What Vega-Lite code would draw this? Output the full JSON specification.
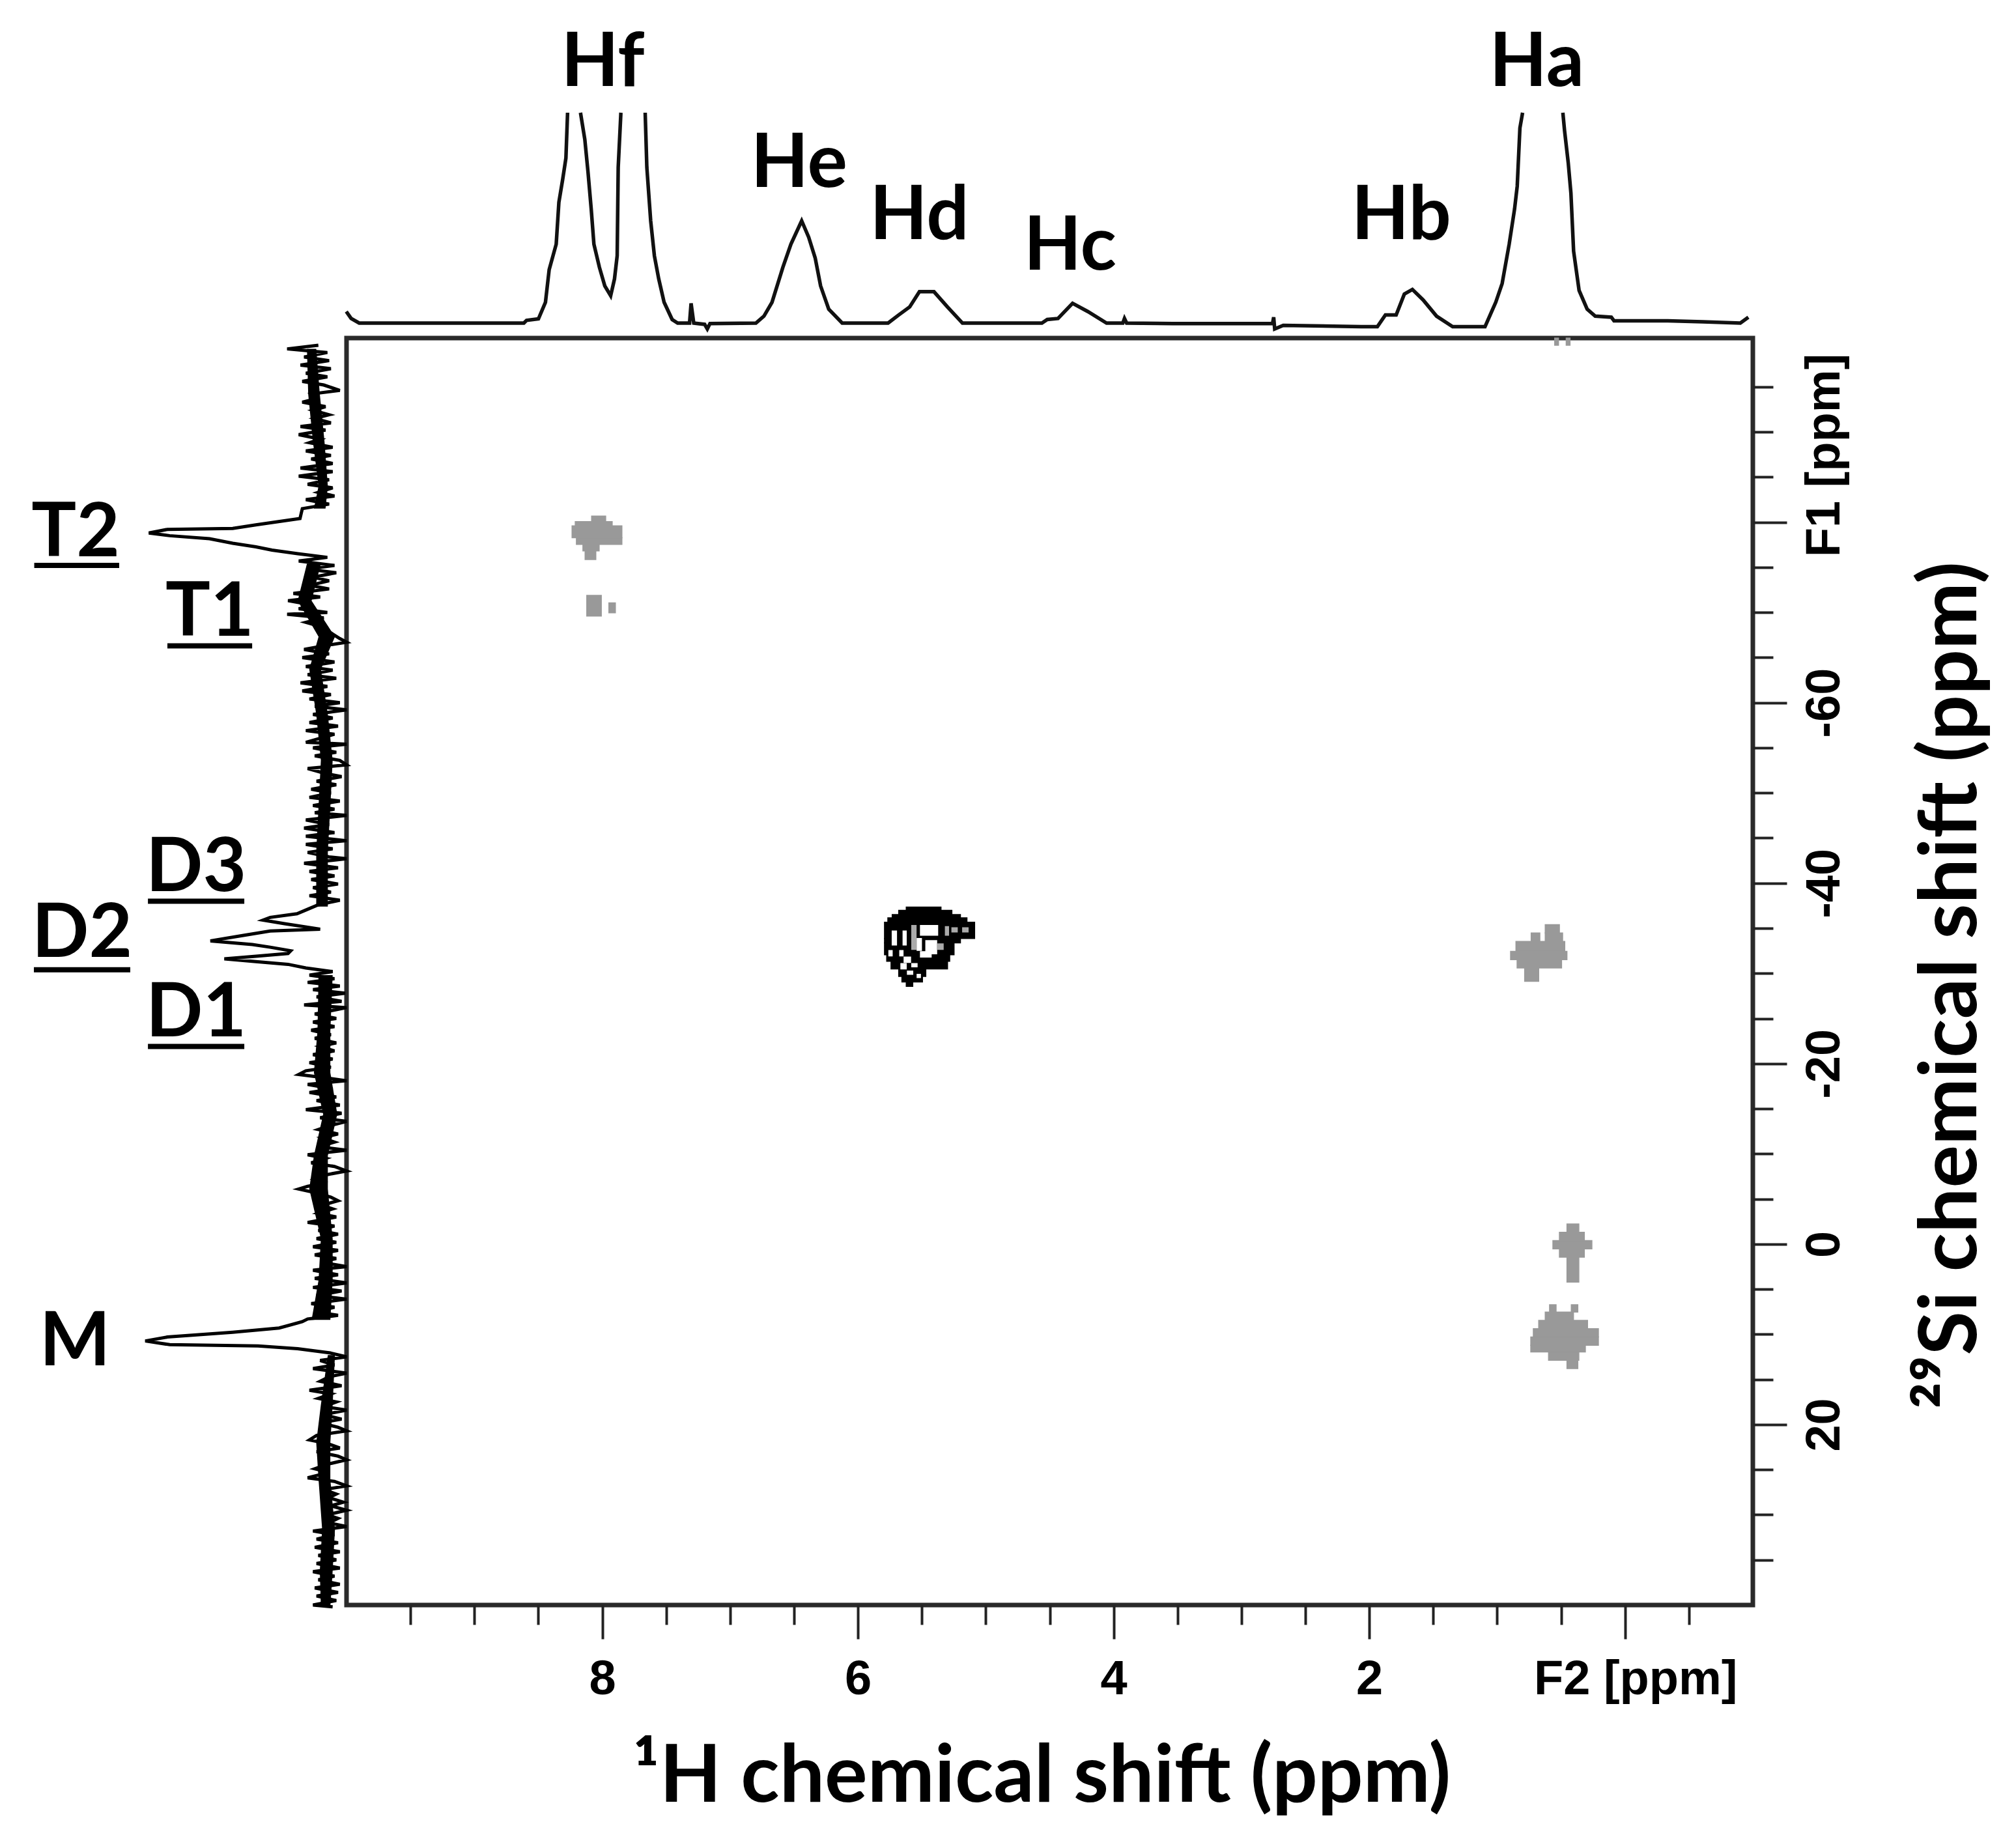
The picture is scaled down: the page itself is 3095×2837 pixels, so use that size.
{
  "$schema": "https://vega.github.io/schema/vega-lite/v6.json",
  "description": "1H-29Si 2D NMR spectrum with projections",
  "width": 2159,
  "height": 1945,
  "autosize": "none",
  "padding": {"left": 532, "top": 519, "right": 404, "bottom": 373},
  "background": "white",
  "config": {"view": {"stroke": "#2a2a2a", "strokeWidth": 7}},
  "datasets": {
    "cells": [
      {"f2a": 8.083, "f2b": 7.973, "f1a": -80.67, "f1b": -80.07, "level": "cross"},
      {"f2a": 8.211, "f2b": 7.922, "f1a": -80.07, "f1b": -79.59, "level": "cross"},
      {"f2a": 8.236, "f2b": 7.846, "f1a": -79.59, "f1b": -78.27, "level": "cross"},
      {"f2a": 8.202, "f2b": 7.846, "f1a": -78.27, "f1b": -77.54, "level": "cross"},
      {"f2a": 8.151, "f2b": 8.024, "f1a": -77.54, "f1b": -76.82, "level": "cross"},
      {"f2a": 8.134, "f2b": 8.05, "f1a": -76.82, "f1b": -75.86, "level": "cross"},
      {"f2a": 8.121, "f2b": 8.007, "f1a": -71.89, "f1b": -69.6, "level": "cross"},
      {"f2a": 7.948, "f2b": 7.897, "f1a": -71.05, "f1b": -69.96, "level": "cross"},
      {"f2a": 0.55, "f2b": 0.52, "f1a": -100.4, "f1b": -99.6, "level": "cross"},
      {"f2a": 0.46, "f2b": 0.43, "f1a": -100.4, "f1b": -99.6, "level": "cross"},
      {"f2a": 0.624, "f2b": 0.513, "f1a": -35.39, "f1b": -34.47, "level": "cross"},
      {"f2a": 0.734, "f2b": 0.666, "f1a": -34.47, "f1b": -33.54, "level": "cross"},
      {"f2a": 0.624, "f2b": 0.488, "f1a": -34.47, "f1b": -33.54, "level": "cross"},
      {"f2a": 0.853, "f2b": 0.471, "f1a": -33.54, "f1b": -32.44, "level": "cross"},
      {"f2a": 0.895, "f2b": 0.454, "f1a": -32.44, "f1b": -31.52, "level": "cross"},
      {"f2a": 0.844, "f2b": 0.496, "f1a": -31.52, "f1b": -30.6, "level": "cross"},
      {"f2a": 0.785, "f2b": 0.675, "f1a": -30.6, "f1b": -29.12, "level": "cross"},
      {"f2a": 0.454, "f2b": 0.361, "f1a": -2.23, "f1b": -1.31, "level": "cross"},
      {"f2a": 0.513, "f2b": 0.318, "f1a": -1.31, "f1b": -0.39, "level": "cross"},
      {"f2a": 0.564, "f2b": 0.259, "f1a": -0.39, "f1b": 0.53, "level": "cross"},
      {"f2a": 0.513, "f2b": 0.318, "f1a": 0.53, "f1b": 1.45, "level": "cross"},
      {"f2a": 0.454, "f2b": 0.361, "f1a": 1.45, "f1b": 4.22, "level": "cross"},
      {"f2a": 0.59, "f2b": 0.539, "f1a": 6.72, "f1b": 7.53, "level": "cross"},
      {"f2a": 0.42, "f2b": 0.369, "f1a": 6.72, "f1b": 7.53, "level": "cross"},
      {"f2a": 0.624, "f2b": 0.403, "f1a": 7.53, "f1b": 8.45, "level": "cross"},
      {"f2a": 0.675, "f2b": 0.293, "f1a": 8.45, "f1b": 9.37, "level": "cross"},
      {"f2a": 0.717, "f2b": 0.208, "f1a": 9.37, "f1b": 10.29, "level": "cross"},
      {"f2a": 0.737, "f2b": 0.208, "f1a": 10.29, "f1b": 11.21, "level": "cross"},
      {"f2a": 0.737, "f2b": 0.31, "f1a": 11.21, "f1b": 11.95, "level": "cross"},
      {"f2a": 0.598, "f2b": 0.361, "f1a": 11.95, "f1b": 12.88, "level": "cross"},
      {"f2a": 0.454, "f2b": 0.369, "f1a": 12.88, "f1b": 13.8, "level": "cross"},
      {"f2a": 5.622, "f2b": 5.35, "f1a": -37.35, "f1b": -36.99, "level": "contour"},
      {"f2a": 5.681, "f2b": 5.265, "f1a": -36.99, "f1b": -36.51, "level": "contour"},
      {"f2a": 5.732, "f2b": 5.198, "f1a": -36.51, "f1b": -36.15, "level": "contour"},
      {"f2a": 5.766, "f2b": 5.147, "f1a": -36.15, "f1b": -35.66, "level": "contour"},
      {"f2a": 5.792, "f2b": 5.087, "f1a": -35.66, "f1b": -33.86, "level": "contour"},
      {"f2a": 5.792, "f2b": 5.198, "f1a": -33.86, "f1b": -33.38, "level": "contour"},
      {"f2a": 5.792, "f2b": 5.248, "f1a": -33.38, "f1b": -32.05, "level": "contour"},
      {"f2a": 5.775, "f2b": 5.282, "f1a": -32.05, "f1b": -31.33, "level": "contour"},
      {"f2a": 5.741, "f2b": 5.299, "f1a": -31.33, "f1b": -30.49, "level": "contour"},
      {"f2a": 5.681, "f2b": 5.469, "f1a": -30.49, "f1b": -29.65, "level": "contour"},
      {"f2a": 5.656, "f2b": 5.495, "f1a": -29.65, "f1b": -29.05, "level": "contour"},
      {"f2a": 5.622, "f2b": 5.571, "f1a": -29.05, "f1b": -28.56, "level": "contour"},
      {"f2a": 5.732, "f2b": 5.698, "f1a": -34.7, "f1b": -33.14, "level": "gap"},
      {"f2a": 5.647, "f2b": 5.622, "f1a": -34.7, "f1b": -33.14, "level": "gap"},
      {"f2a": 5.579, "f2b": 5.545, "f1a": -35.3, "f1b": -32.66, "level": "mid"},
      {"f2a": 5.511, "f2b": 5.376, "f1a": -35.3, "f1b": -34.22, "level": "gap"},
      {"f2a": 5.537, "f2b": 5.503, "f1a": -33.86, "f1b": -32.54, "level": "gap"},
      {"f2a": 5.469, "f2b": 5.384, "f1a": -33.62, "f1b": -32.17, "level": "gap"},
      {"f2a": 5.511, "f2b": 5.427, "f1a": -32.41, "f1b": -31.81, "level": "gap"},
      {"f2a": 5.376, "f2b": 5.333, "f1a": -33.26, "f1b": -32.66, "level": "mid"},
      {"f2a": 5.316, "f2b": 5.291, "f1a": -35.18, "f1b": -34.22, "level": "mid"},
      {"f2a": 5.265, "f2b": 5.223, "f1a": -35.06, "f1b": -34.58, "level": "mid"},
      {"f2a": 5.181, "f2b": 5.138, "f1a": -35.06, "f1b": -34.58, "level": "mid"},
      {"f2a": 5.758, "f2b": 5.732, "f1a": -32.53, "f1b": -31.93, "level": "gap"},
      {"f2a": 5.673, "f2b": 5.647, "f1a": -32.53, "f1b": -31.93, "level": "gap"},
      {"f2a": 5.639, "f2b": 5.588, "f1a": -31.81, "f1b": -31.21, "level": "gap"},
      {"f2a": 5.579, "f2b": 5.537, "f1a": -31.09, "f1b": -30.73, "level": "gap"},
      {"f2a": 5.664, "f2b": 5.622, "f1a": -31.09, "f1b": -30.49, "level": "gap"},
      {"f2a": 5.613, "f2b": 5.571, "f1a": -30.25, "f1b": -29.89, "level": "gap"},
      {"f2a": 5.537, "f2b": 5.511, "f1a": -29.89, "f1b": -29.53, "level": "gap"}
    ],
    "proton": [
      {"seg": 1, "ppm": 10.002, "i": 0.055}, {"seg": 1, "ppm": 9.964, "i": 0.022}, {"seg": 1, "ppm": 9.901, "i": 0},
      {"seg": 1, "ppm": 8.613, "i": 0}, {"seg": 1, "ppm": 8.592, "i": 0.013}, {"seg": 1, "ppm": 8.499, "i": 0.02},
      {"seg": 1, "ppm": 8.444, "i": 0.099}, {"seg": 1, "ppm": 8.415, "i": 0.254}, {"seg": 1, "ppm": 8.36, "i": 0.375},
      {"seg": 1, "ppm": 8.339, "i": 0.574}, {"seg": 1, "ppm": 8.309, "i": 0.684}, {"seg": 1, "ppm": 8.284, "i": 0.784},
      {"seg": 1, "ppm": 8.271, "i": 1},
      {"seg": 2, "ppm": 8.17, "i": 1}, {"seg": 2, "ppm": 8.136, "i": 0.872}, {"seg": 2, "ppm": 8.111, "i": 0.717},
      {"seg": 2, "ppm": 8.086, "i": 0.541}, {"seg": 2, "ppm": 8.065, "i": 0.375}, {"seg": 2, "ppm": 8.022, "i": 0.265},
      {"seg": 2, "ppm": 7.98, "i": 0.177}, {"seg": 2, "ppm": 7.934, "i": 0.13}, {"seg": 2, "ppm": 7.904, "i": 0.21},
      {"seg": 2, "ppm": 7.883, "i": 0.32}, {"seg": 2, "ppm": 7.875, "i": 0.74}, {"seg": 2, "ppm": 7.854, "i": 1},
      {"seg": 3, "ppm": 7.664, "i": 1}, {"seg": 3, "ppm": 7.651, "i": 0.74}, {"seg": 3, "ppm": 7.621, "i": 0.486},
      {"seg": 3, "ppm": 7.592, "i": 0.32}, {"seg": 3, "ppm": 7.558, "i": 0.21}, {"seg": 3, "ppm": 7.516, "i": 0.099},
      {"seg": 3, "ppm": 7.453, "i": 0.017}, {"seg": 3, "ppm": 7.41, "i": 0}, {"seg": 3, "ppm": 7.317, "i": 0},
      {"seg": 3, "ppm": 7.305, "i": 0.094}, {"seg": 3, "ppm": 7.284, "i": 0}, {"seg": 3, "ppm": 7.199, "i": -0.006},
      {"seg": 3, "ppm": 7.178, "i": -0.028}, {"seg": 3, "ppm": 7.157, "i": -0.002}, {"seg": 3, "ppm": 6.798, "i": 0},
      {"seg": 3, "ppm": 6.735, "i": 0.033}, {"seg": 3, "ppm": 6.672, "i": 0.099}, {"seg": 3, "ppm": 6.587, "i": 0.265},
      {"seg": 3, "ppm": 6.524, "i": 0.375}, {"seg": 3, "ppm": 6.44, "i": 0.486}, {"seg": 3, "ppm": 6.385, "i": 0.408},
      {"seg": 3, "ppm": 6.334, "i": 0.309}, {"seg": 3, "ppm": 6.292, "i": 0.177}, {"seg": 3, "ppm": 6.228, "i": 0.066},
      {"seg": 3, "ppm": 6.123, "i": 0}, {"seg": 3, "ppm": 5.764, "i": 0}, {"seg": 3, "ppm": 5.68, "i": 0.039},
      {"seg": 3, "ppm": 5.595, "i": 0.077}, {"seg": 3, "ppm": 5.519, "i": 0.149}, {"seg": 3, "ppm": 5.405, "i": 0.149},
      {"seg": 3, "ppm": 5.3, "i": 0.077}, {"seg": 3, "ppm": 5.182, "i": 0}, {"seg": 3, "ppm": 4.561, "i": 0},
      {"seg": 3, "ppm": 4.519, "i": 0.017}, {"seg": 3, "ppm": 4.435, "i": 0.022}, {"seg": 3, "ppm": 4.321, "i": 0.094},
      {"seg": 3, "ppm": 4.202, "i": 0.055}, {"seg": 3, "ppm": 4.055, "i": 0}, {"seg": 3, "ppm": 3.928, "i": 0},
      {"seg": 3, "ppm": 3.915, "i": 0.022}, {"seg": 3, "ppm": 3.898, "i": 0}, {"seg": 3, "ppm": 3.535, "i": -0.002},
      {"seg": 3, "ppm": 2.757, "i": -0.002}, {"seg": 3, "ppm": 2.748, "i": 0.028}, {"seg": 3, "ppm": 2.74, "i": -0.028},
      {"seg": 3, "ppm": 2.673, "i": -0.011}, {"seg": 3, "ppm": 2.063, "i": -0.017}, {"seg": 3, "ppm": 1.937, "i": -0.017},
      {"seg": 3, "ppm": 1.874, "i": 0.039}, {"seg": 3, "ppm": 1.79, "i": 0.039}, {"seg": 3, "ppm": 1.726, "i": 0.138},
      {"seg": 3, "ppm": 1.663, "i": 0.16}, {"seg": 3, "ppm": 1.579, "i": 0.11}, {"seg": 3, "ppm": 1.474, "i": 0.033},
      {"seg": 3, "ppm": 1.348, "i": -0.017}, {"seg": 3, "ppm": 1.095, "i": -0.017}, {"seg": 3, "ppm": 1.011, "i": 0.099},
      {"seg": 3, "ppm": 0.961, "i": 0.188}, {"seg": 3, "ppm": 0.906, "i": 0.375}, {"seg": 3, "ppm": 0.864, "i": 0.541},
      {"seg": 3, "ppm": 0.843, "i": 0.651}, {"seg": 3, "ppm": 0.822, "i": 0.927}, {"seg": 3, "ppm": 0.801, "i": 1},
      {"seg": 4, "ppm": 0.486, "i": 1}, {"seg": 4, "ppm": 0.473, "i": 0.916}, {"seg": 4, "ppm": 0.444, "i": 0.762},
      {"seg": 4, "ppm": 0.423, "i": 0.618}, {"seg": 4, "ppm": 0.402, "i": 0.342}, {"seg": 4, "ppm": 0.359, "i": 0.155},
      {"seg": 4, "ppm": 0.296, "i": 0.066}, {"seg": 4, "ppm": 0.233, "i": 0.033}, {"seg": 4, "ppm": 0.107, "i": 0.028},
      {"seg": 4, "ppm": 0.086, "i": 0.011}, {"seg": 4, "ppm": -0.334, "i": 0.011}, {"seg": 4, "ppm": -0.608, "i": 0.006},
      {"seg": 4, "ppm": -0.902, "i": 0}, {"seg": 4, "ppm": -0.965, "i": 0.028}
    ],
    "silicon": [
      {"si":-99.6,"i":0.03},{"si":-99.2,"i":0.205},{"si":-98.8,"i":-0.02},{"si":-98.3,"i":0.11},{"si":-97.9,"i":-0.03},{"si":-97.4,"i":0.13},{"si":-97,"i":-0.04},{"si":-96.5,"i":0.1},{"si":-96.1,"i":-0.02},{"si":-95.6,"i":0.12},{"si":-95.2,"i":0},{"si":-94.6,"i":-0.09},{"si":-94.2,"i":0.07},{"si":-93.7,"i":0.04},{"si":-93.3,"i":0.12},{"si":-92.8,"i":-0.01},{"si":-92.4,"i":0.06},{"si":-91.9,"i":-0.03},{"si":-91.5,"i":0.05},{"si":-91,"i":-0.04},{"si":-90.6,"i":0.13},{"si":-90.2,"i":-0.01},{"si":-89.7,"i":0.14},{"si":-89.2,"i":0.02},{"si":-88.8,"i":0.08},{"si":-88.3,"i":-0.05},{"si":-87.9,"i":0.1},{"si":-87.4,"i":-0.04},{"si":-87,"i":0.07},{"si":-86.5,"i":-0.05},{"si":-86,"i":0.13},{"si":-85.6,"i":-0.05},{"si":-85.1,"i":0.14},{"si":-84.7,"i":-0.03},{"si":-84.2,"i":0.09},{"si":-83.8,"i":-0.05},{"si":-83.3,"i":0.03},{"si":-82.9,"i":-0.06},{"si":-82.5,"i":0.1},{"si":-82,"i":-0.03},{"si":-81.5,"i":0.12},
      {"si":-80.4,"i":0.133},{"si":-79.7,"i":0.38},{"si":-79.3,"i":0.51},{"si":-79.2,"i":0.876},{"si":-78.8,"i":0.98},{"si":-78.5,"i":0.863},{"si":-78.17,"i":0.64},{"si":-77.66,"i":0.51},{"si":-77.26,"i":0.38},{"si":-76.9,"i":0.29},{"si":-76.5,"i":0.146},
      {"si":-76.1,"i":-0.02},{"si":-75.7,"i":0.14},{"si":-75.2,"i":-0.06},{"si":-74.8,"i":0.09},{"si":-74.4,"i":-0.07},{"si":-73.9,"i":0.06},{"si":-73.5,"i":-0.03},{"si":-73,"i":0.08},{"si":-72.6,"i":-0.03},{"si":-72.1,"i":0.17},{"si":-71.7,"i":0.02},{"si":-71.3,"i":0.2},{"si":-70.8,"i":0.06},{"si":-70.4,"i":0.14},{"si":-70,"i":-0.02},{"si":-69.8,"i":0.205},{"si":-69.4,"i":0},{"si":-68.9,"i":0.1},{"si":-68.5,"i":0.03},{"si":-68,"i":-0.02},{"si":-67.6,"i":-0.05},{"si":-67.1,"i":-0.09},{"si":-66.7,"i":-0.128},{"si":-66.3,"i":0},{"si":-65.9,"i":0.11},{"si":-65.4,"i":-0.03},{"si":-65,"i":0.12},{"si":-64.5,"i":-0.06},{"si":-64,"i":0.1},{"si":-63.6,"i":-0.05},{"si":-63.1,"i":0.09},{"si":-62.7,"i":-0.07},{"si":-62.2,"i":0.13},{"si":-61.8,"i":-0.02},{"si":-61.3,"i":0.12},{"si":-60.9,"i":-0.04},{"si":-60.4,"i":0.08},{"si":-60,"i":-0.09},{"si":-59.6,"i":0.05},{"si":-59.2,"i":-0.128},{"si":-58.7,"i":0.06},{"si":-58.3,"i":-0.05},{"si":-57.8,"i":0.08},{"si":-57.4,"i":-0.08},{"si":-56.9,"i":0.1},{"si":-56.5,"i":-0.06},{"si":-56,"i":0.03},{"si":-55.6,"i":0.1},{"si":-55.4,"i":-0.128},{"si":-55,"i":0.06},{"si":-54.5,"i":-0.07},{"si":-54.1,"i":0.05},{"si":-53.6,"i":-0.09},{"si":-53.1,"i":-0.128},{"si":-52.7,"i":0.09},{"si":-52.2,"i":0},{"si":-51.8,"i":-0.1},{"si":-51.3,"i":0.04},{"si":-50.9,"i":-0.07},{"si":-50.4,"i":0.07},{"si":-50,"i":-0.04},{"si":-49.5,"i":0.08},{"si":-49.1,"i":-0.09},{"si":-48.6,"i":0.06},{"si":-48.2,"i":-0.06},{"si":-47.8,"i":0.05},{"si":-47.5,"i":-0.128},{"si":-47,"i":0.1},{"si":-46.5,"i":-0.03},{"si":-46.1,"i":0.11},{"si":-45.6,"i":-0.06},{"si":-45.2,"i":0.1},{"si":-44.7,"i":-0.128},{"si":-44.3,"i":0.1},{"si":-43.8,"i":-0.05},{"si":-43.4,"i":0.09},{"si":-42.9,"i":-0.03},{"si":-42.7,"i":-0.128},{"si":-42.2,"i":0.11},{"si":-41.7,"i":-0.08},{"si":-41.3,"i":0.08},{"si":-40.8,"i":-0.06},{"si":-40.4,"i":0.07},{"si":-39.9,"i":-0.08},{"si":-39.5,"i":0.06},{"si":-39,"i":-0.04},{"si":-38.6,"i":0.08},{"si":-38.1,"i":-0.09},{"si":-37.6,"i":0.03},{"si":-37.1,"i":0.09},
      {"si":-36.6,"i":0.15},{"si":-36.2,"i":0.3},{"si":-35.9,"i":0.34},{"si":-35.5,"i":0.22},{"si":-34.9,"i":0.02},{"si":-34.7,"i":0.3},{"si":-34.2,"i":0.45},{"si":-33.6,"i":0.635},{"si":-33.2,"i":0.4},{"si":-32.9,"i":0.3},{"si":-32.5,"i":0.185},{"si":-32.2,"i":0.2},{"si":-31.9,"i":0.38},{"si":-31.6,"i":0.557},{"si":-31.3,"i":0.38},{"si":-31,"i":0.2},{"si":-30.6,"i":0.1},
      {"si":-30.2,"i":-0.05},{"si":-29.8,"i":0.08},{"si":-29.4,"i":-0.06},{"si":-29,"i":0.09},{"si":-28.6,"i":-0.09},{"si":-28.2,"i":0.06},{"si":-27.8,"i":-0.12},{"si":-27.4,"i":0.04},{"si":-26.9,"i":-0.1},{"si":-26.5,"i":0.11},{"si":-26.2,"i":-0.128},{"si":-25.5,"i":0.05},{"si":-25,"i":-0.07},{"si":-24.6,"i":0.06},{"si":-24.1,"i":-0.06},{"si":-23.7,"i":0.07},{"si":-23.2,"i":-0.04},{"si":-22.8,"i":0.05},{"si":-22.3,"i":-0.07},{"si":-21.9,"i":0.02},{"si":-21.4,"i":-0.06},{"si":-21,"i":0.06},{"si":-20.5,"i":-0.05},{"si":-20.1,"i":0.08},{"si":-19.6,"i":-0.04},{"si":-19.2,"i":0.1},{"si":-18.8,"i":0.14},{"si":-18.4,"i":-0.02},{"si":-18.1,"i":-0.128},{"si":-17.7,"i":0.09},{"si":-17.2,"i":-0.05},{"si":-16.8,"i":0.08},{"si":-16.3,"i":-0.07},{"si":-15.9,"i":0.04},{"si":-15.4,"i":-0.09},{"si":-14.9,"i":0.1},{"si":-14.5,"i":-0.1},{"si":-14,"i":0.02},{"si":-13.6,"i":-0.128},{"si":-13.1,"i":-0.03},{"si":-12.7,"i":0.03},{"si":-12.2,"i":-0.08},{"si":-11.8,"i":0.01},{"si":-11.3,"i":-0.06},{"si":-10.8,"i":0.03},{"si":-10.4,"i":-0.128},{"si":-9.9,"i":0.09},{"si":-9.5,"i":-0.01},{"si":-9,"i":0.07},{"si":-8.6,"i":-0.06},{"si":-8.1,"i":-0.128},{"si":-7.7,"i":-0.02},{"si":-7.2,"i":0.05},{"si":-6.8,"i":-0.02},{"si":-6.4,"i":0.09},{"si":-6.1,"i":0.14},{"si":-5.7,"i":0.05},{"si":-5.2,"i":-0.04},{"si":-4.8,"i":-0.08},{"si":-4.3,"i":0.01},{"si":-3.9,"i":-0.05},{"si":-3.4,"i":0.03},{"si":-3,"i":-0.07},{"si":-2.4,"i":0.09},{"si":-2,"i":-0.06},{"si":-1.5,"i":0.03},{"si":-1.1,"i":-0.08},{"si":-0.6,"i":0.04},{"si":-0.2,"i":-0.07},{"si":0.3,"i":0.06},{"si":0.7,"i":-0.08},{"si":1.2,"i":0.05},{"si":1.6,"i":-0.07},{"si":2,"i":0.02},{"si":2.5,"i":-0.128},{"si":2.9,"i":0.06},{"si":3.4,"i":-0.08},{"si":3.8,"i":0.05},{"si":4.3,"i":-0.128},{"si":4.8,"i":0.06},{"si":5.2,"i":-0.1},{"si":5.7,"i":0.04},{"si":6.1,"i":-0.128},{"si":6.6,"i":0.07},{"si":7,"i":-0.06},{"si":7.5,"i":0.04},{"si":7.9,"i":-0.08},{"si":8.3,"i":0.09},
      {"si":8.6,"i":0.12},{"si":9.3,"i":0.25},{"si":9.77,"i":0.51},{"si":10.3,"i":0.876},{"si":10.74,"i":1},{"si":11.15,"i":0.863},{"si":11.29,"i":0.368},{"si":11.6,"i":0.146},{"si":12.07,"i":-0.037},
      {"si":12.5,"i":-0.128},{"si":12.9,"i":0.02},{"si":13.4,"i":-0.06},{"si":13.8,"i":0.06},{"si":14.3,"i":-0.128},{"si":14.7,"i":-0.03},{"si":15.2,"i":0.02},{"si":15.7,"i":-0.1},{"si":16.2,"i":0.08},{"si":16.6,"i":-0.04},{"si":17.1,"i":0.03},{"si":17.5,"i":-0.07},{"si":18,"i":0},{"si":18.4,"i":-0.128},{"si":18.9,"i":0},{"si":19.4,"i":-0.1},{"si":19.8,"i":0.02},{"si":20.3,"i":-0.08},{"si":20.7,"i":-0.128},{"si":21.2,"i":0.04},{"si":21.7,"i":0.08},{"si":22.1,"i":-0.02},{"si":22.6,"i":-0.09},{"si":23,"i":0.04},{"si":23.5,"i":-0.08},{"si":23.9,"i":-0.128},{"si":24.4,"i":-0.02},{"si":24.9,"i":0.05},{"si":25.3,"i":-0.03},{"si":25.9,"i":0.09},{"si":26.3,"i":-0.06},{"si":26.8,"i":-0.128},{"si":27.2,"i":0},{"si":27.7,"i":-0.07},{"si":28.1,"i":-0.03},{"si":28.6,"i":-0.11},{"si":29,"i":-0.04},{"si":29.5,"i":-0.128},{"si":30,"i":-0.02},{"si":30.4,"i":-0.08},{"si":30.9,"i":-0.03},{"si":31.3,"i":-0.128},{"si":31.8,"i":0.06},{"si":32.2,"i":-0.06},{"si":32.7,"i":0.04},{"si":33.1,"i":-0.08},{"si":33.6,"i":0.05},{"si":34.1,"i":-0.09},{"si":34.5,"i":0.03},{"si":35,"i":-0.07},{"si":35.4,"i":0.04},{"si":35.9,"i":-0.09},{"si":36.3,"i":0.06},{"si":36.8,"i":-0.06},{"si":37.2,"i":0.03},{"si":37.7,"i":-0.09},{"si":38.1,"i":0.05},{"si":38.6,"i":-0.08},{"si":39,"i":0.04},{"si":39.5,"i":-0.07},{"si":40,"i":0.06},{"si":40.2,"i":-0.05}
    ],
    "noiseCore": [
      {"part":1,"si":-99.2,"lo":0.094,"hi":0.042},{"part":1,"si":-94.2,"lo":0.087,"hi":0.022},{"part":1,"si":-89,"lo":0.061,"hi":-0.004},{"part":1,"si":-84,"lo":0.029,"hi":-0.023},{"part":1,"si":-81.5,"lo":0.055,"hi":-0.01},
      {"part":2,"si":-75.4,"lo":0.094,"hi":0.016},{"part":2,"si":-71.3,"lo":0.146,"hi":0.068},{"part":2,"si":-67.3,"lo":0.029,"hi":-0.063},{"part":2,"si":-63.7,"lo":0.081,"hi":0.016},{"part":2,"si":-58.7,"lo":0.042,"hi":-0.023},{"part":2,"si":-53.6,"lo":0.016,"hi":-0.05},{"part":2,"si":-48.5,"lo":0.029,"hi":-0.037},{"part":2,"si":-43.5,"lo":0.042,"hi":-0.023},{"part":2,"si":-37.4,"lo":0.042,"hi":-0.023},
      {"part":3,"si":-29.8,"lo":0.029,"hi":-0.05},{"part":3,"si":-23.6,"lo":0.035,"hi":-0.037},{"part":3,"si":-19,"lo":0.055,"hi":-0.037},{"part":3,"si":-14.4,"lo":0.003,"hi":-0.076},{"part":3,"si":-9.8,"lo":0.055,"hi":-0.023},{"part":3,"si":-6.1,"lo":0.081,"hi":-0.023},{"part":3,"si":-0.6,"lo":0.016,"hi":-0.05},{"part":3,"si":4,"lo":0.029,"hi":-0.05},{"part":3,"si":8.4,"lo":0.068,"hi":-0.037},
      {"part":4,"si":12.3,"lo":-0.023,"hi":-0.063},{"part":4,"si":17.8,"lo":0.016,"hi":-0.05},{"part":4,"si":22,"lo":0.042,"hi":-0.037},{"part":4,"si":26.1,"lo":0.029,"hi":-0.037},{"part":4,"si":31.6,"lo":0.009,"hi":-0.063},{"part":4,"si":36.2,"lo":0.022,"hi":-0.05},{"part":4,"si":40.2,"lo":0.016,"hi":-0.037}
    ],
    "protonLabels": [
      {"ppm": 7.995, "i": 1.126, "label": "Hf"},
      {"ppm": 6.46, "i": 0.647, "label": "He"},
      {"ppm": 5.52, "i": 0.4, "label": "Hd"},
      {"ppm": 4.34, "i": 0.254, "label": "Hc"},
      {"ppm": 1.75, "i": 0.4, "label": "Hb"},
      {"ppm": 0.69, "i": 1.126, "label": "Ha"}
    ],
    "siliconLabels": [
      {"si": -76.2, "i": 1.39, "label": "T2"},
      {"si": -67.4, "i": 0.639, "label": "T1"},
      {"si": -39.1, "i": 0.715, "label": "D3"},
      {"si": -31.8, "i": 1.354, "label": "D2"},
      {"si": -23, "i": 0.715, "label": "D1"},
      {"si": 13.4, "i": 1.394, "label": "M"}
    ],
    "underlines": [
      {"si": -75.2, "a": 1.622, "b": 1.146},
      {"si": -66.3, "a": 0.876, "b": 0.401},
      {"si": -38, "a": 0.985, "b": 0.445},
      {"si": -30.4, "a": 1.624, "b": 1.084},
      {"si": -21.9, "a": 0.985, "b": 0.445}
    ]
  },
  "resolve": {"scale": {"x": "independent", "y": "independent"}},
  "layer": [
    {
      "data": {"name": "cells"},
      "mark": {"type": "rect", "strokeWidth": 1.5},
      "encoding": {
        "x": {
          "field": "f2a",
          "type": "quantitative",
          "scale": {"domain": [10, -1], "nice": false, "zero": false},
          "axis": {
            "title": "¹H chemical shift (ppm)",
            "titleFont": "Lato",
            "titleFontSize": 123,
            "titleFontWeight": "bold",
            "titleColor": "black",
            "titleX": 1067,
            "titleY": 301,
            "titleBaseline": "alphabetic",
            "grid": false,
            "domain": false,
            "values": [9.5, 9, 8.5, 8, 7.5, 7, 6.5, 6, 5.5, 5, 4.5, 4, 3.5, 3, 2.5, 2, 1.5, 1, 0.5, 0, -0.5],
            "tickColor": "#222222",
            "tickWidth": 4,
            "tickSize": {"condition": {"test": "datum.value % 2 === 0", "value": 52}, "value": 30},
            "labelExpr": "datum.value === 0 ? 'F2 [ppm]' : (datum.value % 2 === 0 ? '' + datum.value : '')",
            "labelFont": "Liberation Sans",
            "labelFontSize": 74,
            "labelFontWeight": "bold",
            "labelColor": "black",
            "labelPadding": 26,
            "labelLimit": 0,
            "labelOverlap": false,
            "labelBound": false,
            "labelFlush": false,
            "labelOffset": {"condition": {"test": "datum.value === 0", "value": 16}, "value": 0}
          }
        },
        "x2": {"field": "f2b"},
        "y": {
          "field": "f1a",
          "type": "quantitative",
          "scale": {"domain": [40, -100.4], "nice": false, "zero": false},
          "axis": {
            "orient": "right",
            "title": "²⁹Si chemical shift (ppm)",
            "titleFont": "Lato",
            "titleFontSize": 123,
            "titleFontWeight": "bold",
            "titleColor": "black",
            "titleAngle": 270,
            "titleX": 342,
            "titleY": 993,
            "titleAlign": "center",
            "titleBaseline": "alphabetic",
            "grid": false,
            "domain": false,
            "values": [-95, -90, -85, -80, -75, -70, -65, -60, -55, -50, -45, -40, -35, -30, -25, -20, -15, -10, -5, 0, 5, 10, 15, 20, 25, 30, 35],
            "tickColor": "#222222",
            "tickWidth": 4,
            "tickSize": {"condition": {"test": "datum.value % 20 === 0", "value": 52}, "value": 31},
            "labelExpr": "datum.value === -80 ? 'F1 [ppm]' : (datum.value % 20 === 0 ? '' + datum.value : '')",
            "labelFont": "Liberation Sans",
            "labelFontSize": 74,
            "labelFontWeight": "bold",
            "labelColor": "black",
            "labelAngle": 270,
            "labelAlign": "center",
            "labelBaseline": "bottom",
            "labelPadding": 96,
            "labelLimit": 0,
            "labelOverlap": false,
            "labelBound": false,
            "labelFlush": false,
            "labelOffset": {"condition": {"test": "datum.value === -80", "value": -103}, "value": 0}
          }
        },
        "y2": {"field": "f1b"},
        "color": {
          "field": "level",
          "type": "nominal",
          "scale": {"domain": ["cross", "contour", "gap", "mid"], "range": ["#999999", "#000000", "#ffffff", "#aaaaaa"]},
          "legend": null
        },
        "stroke": {
          "field": "level",
          "type": "nominal",
          "scale": {"domain": ["cross", "contour", "gap", "mid"], "range": ["#999999", "#000000", "#ffffff", "#aaaaaa"]},
          "legend": null
        }
      }
    },
    {
      "data": {"name": "proton"},
      "mark": {"type": "line", "stroke": "#111111", "strokeWidth": 5.5},
      "encoding": {
        "x": {"field": "ppm", "type": "quantitative", "scale": {"domain": [10, -1], "nice": false, "zero": false}, "axis": null},
        "y": {"field": "i", "type": "quantitative", "scale": {"domain": [0, 1], "range": [-23, -346], "nice": false, "zero": false}, "axis": null},
        "detail": {"field": "seg"}
      }
    },
    {
      "data": {"name": "protonLabels"},
      "mark": {"type": "text", "font": "Lato", "fontWeight": "bold", "fontSize": 115, "align": "center", "baseline": "alphabetic", "color": "black"},
      "encoding": {
        "x": {"field": "ppm", "type": "quantitative", "scale": {"domain": [10, -1], "nice": false, "zero": false}, "axis": null},
        "y": {"field": "i", "type": "quantitative", "scale": {"domain": [0, 1], "range": [-23, -346], "nice": false, "zero": false}, "axis": null},
        "text": {"field": "label"}
      }
    },
    {
      "data": {"name": "noiseCore"},
      "mark": {"type": "area", "color": "#000000", "orient": "horizontal"},
      "encoding": {
        "x": {"field": "lo", "type": "quantitative", "stack": null, "scale": {"domain": [0, 1], "range": [-35, -309], "nice": false, "zero": false}, "axis": null},
        "x2": {"field": "hi"},
        "y": {"field": "si", "type": "quantitative", "scale": {"domain": [40, -100.4], "nice": false, "zero": false}, "axis": null},
        "detail": {"field": "part"}
      }
    },
    {
      "data": {"name": "silicon"},
      "mark": {"type": "line", "stroke": "#000000", "strokeWidth": 5, "orient": "horizontal"},
      "encoding": {
        "x": {"field": "i", "type": "quantitative", "scale": {"domain": [0, 1], "range": [-35, -309], "nice": false, "zero": false}, "axis": null},
        "y": {"field": "si", "type": "quantitative", "scale": {"domain": [40, -100.4], "nice": false, "zero": false}, "axis": null}
      }
    },
    {
      "data": {"name": "siliconLabels"},
      "mark": {"type": "text", "font": "Lato", "fontWeight": "bold", "fontSize": 115, "align": "center", "baseline": "alphabetic", "color": "black"},
      "encoding": {
        "x": {"field": "i", "type": "quantitative", "scale": {"domain": [0, 1], "range": [-35, -309], "nice": false, "zero": false}, "axis": null},
        "y": {"field": "si", "type": "quantitative", "scale": {"domain": [40, -100.4], "nice": false, "zero": false}, "axis": null},
        "text": {"field": "label"}
      }
    },
    {
      "data": {"name": "underlines"},
      "mark": {"type": "rule", "stroke": "black", "strokeWidth": 8},
      "encoding": {
        "x": {"field": "a", "type": "quantitative", "scale": {"domain": [0, 1], "range": [-35, -309], "nice": false, "zero": false}, "axis": null},
        "x2": {"field": "b"},
        "y": {"field": "si", "type": "quantitative", "scale": {"domain": [40, -100.4], "nice": false, "zero": false}, "axis": null}
      }
    }
  ]
}
